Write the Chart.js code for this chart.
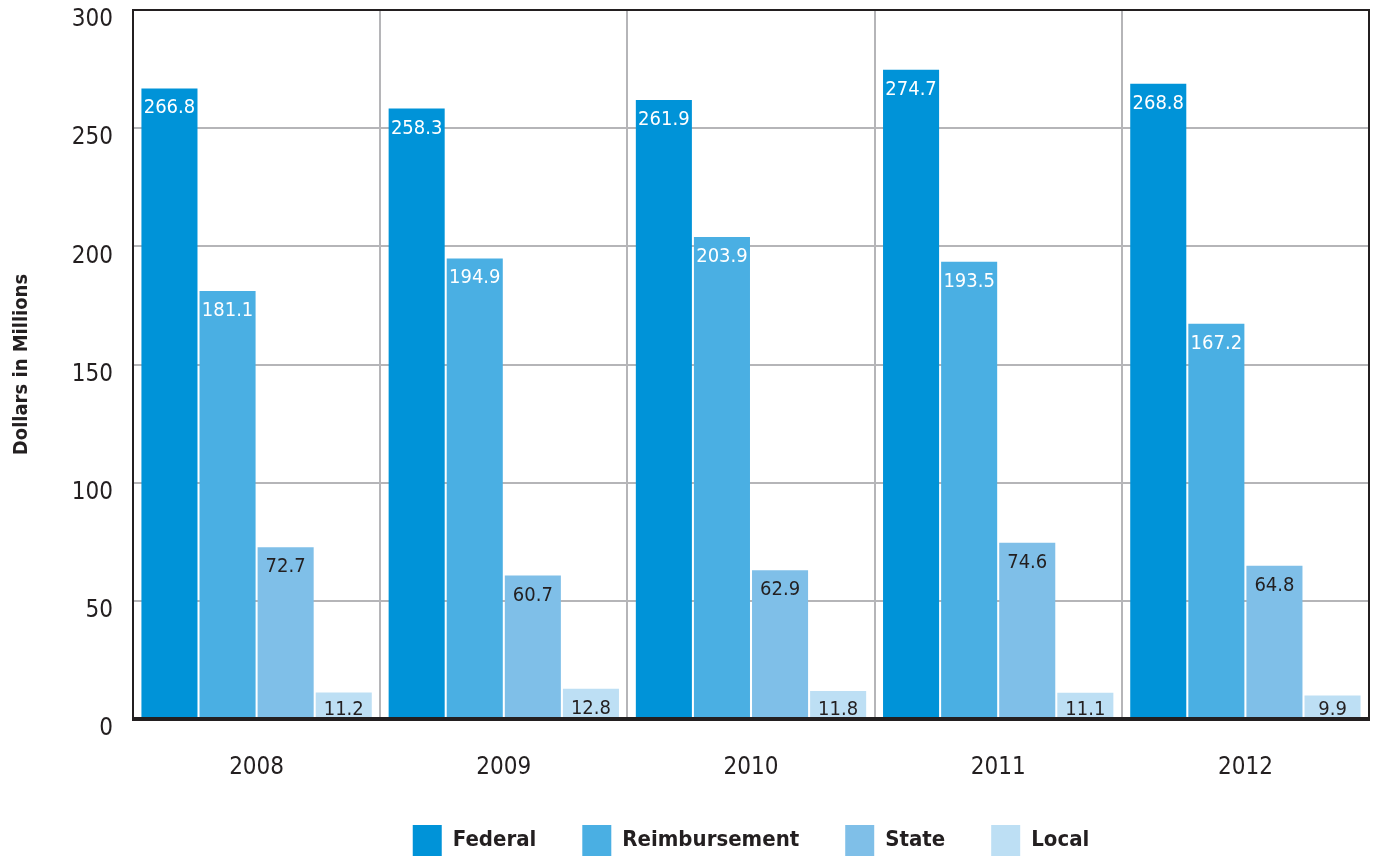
<!DOCTYPE html>
<html>
<head>
<meta charset="utf-8">
<script src="https://cdn.jsdelivr.net/npm/chart.js@4/dist/chart.umd.min.js"></script>
<style>
  html, body { margin: 0; padding: 0; background: #fff; }
  #wrap { width: 1374px; height: 856px; }
</style>
</head>
<body>
<div id="wrap"><canvas id="chart" width="1374" height="856"></canvas></div>
<script>
const years = ['2008', '2009', '2010', '2011', '2012'];
const federal = [266.8, 258.3, 261.9, 274.7, 268.8];
const reimbursement = [181.1, 194.9, 203.9, 193.5, 167.2];
const state = [72.7, 60.7, 62.9, 74.6, 64.8];
const local = [11.2, 12.8, 11.8, 11.1, 9.9];
const yTicks = [0, 50, 100, 150, 200, 250, 300];

const FONT = '"DejaVu Sans Condensed", "Liberation Sans Narrow", sans-serif';
const labelColors = ['#ffffff', '#ffffff', '#231f20', '#231f20'];

// value labels drawn inside the top of each bar
const barLabels = {
  id: 'barLabels',
  afterDatasetsDraw(chart) {
    const ctx = chart.ctx;
    const base = chart.scales.y.getPixelForValue(0);
    ctx.save();
    ctx.font = '20px ' + FONT;
    ctx.textAlign = 'center';
    ctx.textBaseline = 'alphabetic';
    chart.data.datasets.forEach((ds, i) => {
      chart.getDatasetMeta(i).data.forEach((bar, j) => {
        ctx.fillStyle = labelColors[i];
        const y = Math.min(bar.y + 25, base - 4);
        ctx.fillText(ds.data[j].toFixed(1), bar.x, y);
      });
    });
    ctx.restore();
  }
};

// dark frame round the plot, heavy base line
const frame = {
  id: 'frame',
  afterDatasetsDraw(chart) {
    const a = chart.chartArea;
    const ctx = chart.ctx;
    ctx.save();
    ctx.strokeStyle = '#231f20';
    ctx.lineWidth = 2;
    ctx.strokeRect(a.left, a.top, a.right - a.left, a.bottom - a.top);
    ctx.lineWidth = 4;
    ctx.beginPath();
    ctx.moveTo(a.left - 1, a.bottom);
    ctx.lineTo(a.right + 1, a.bottom);
    ctx.stroke();
    ctx.restore();
  }
};

const mk = (label, data, color) => ({
  label, data, backgroundColor: color, borderWidth: 0,
  categoryPercentage: 0.94, barPercentage: 0.965
});

new Chart(document.getElementById('chart').getContext('2d'), {
  type: 'bar',
  data: {
    labels: years,
    datasets: [
      mk('Federal', federal, '#0093d8'),
      mk('Reimbursement', reimbursement, '#4aafe3'),
      mk('State', state, '#7fbfe8'),
      mk('Local', local, '#bddff4')
    ]
  },
  options: {
    responsive: false,
    animation: false,
    layout: { padding: { top: 10, right: 5, left: 0, bottom: -10 } },
    plugins: {
      tooltip: { enabled: false },
      legend: {
        position: 'bottom',
        fullSize: false,
        labels: {
          boxWidth: 29, boxHeight: 31, padding: 46,
          color: '#231f20',
          font: { family: FONT, size: 22, weight: 'bold' }
        }
      }
    },
    scales: {
      x: {
        grid: { color: '#b5b5b8', lineWidth: 2, drawTicks: false },
        border: { display: false },
        ticks: { color: '#231f20', padding: 34, font: { family: FONT, size: 24 } },
        afterFit(s) { s.height = 60; }
      },
      y: {
        min: 0, max: 300,
        afterBuildTicks(s) { s.ticks = yTicks.map(v => ({ value: v })); },
        grid: { color: '#b5b5b8', lineWidth: 2, drawTicks: false },
        border: { display: false },
        ticks: { color: '#231f20', padding: 20, labelOffset: 10, font: { family: FONT, size: 24 } },
        title: {
          display: true, text: 'Dollars in Millions', color: '#231f20',
          font: { family: FONT, size: 20, weight: 'bold' }, padding: { top: 10, bottom: 0 }
        },
        afterFit(s) { s.width = 133; s.paddingTop = 0; s.paddingBottom = 0; }
      }
    }
  },
  plugins: [barLabels, frame]
});
</script>
</body>
</html>
